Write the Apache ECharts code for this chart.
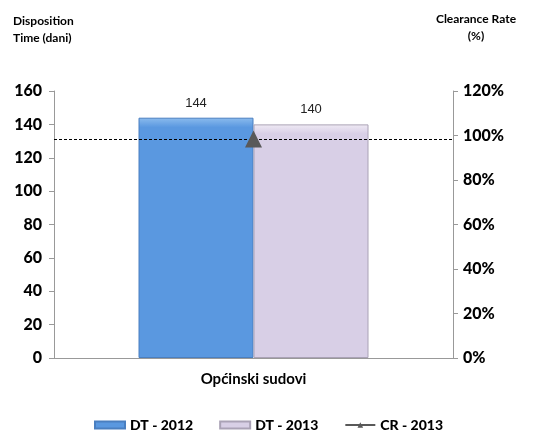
<!DOCTYPE html>
<html>
<head>
<meta charset="utf-8">
<script src="https://cdn.jsdelivr.net/npm/echarts@6/dist/echarts.min.js"></script>
<style>
  html, body { margin: 0; padding: 0; background: #fff; }
  #chart { width: 537px; height: 439px; }
</style>
</head>
<body>
<div id="chart"></div>
<script>
// podaci
const categories = ['Općinski sudovi']
const dt2012 = [144]
const dt2013 = [140]
const cr2013 = [98.4]
const leftTicks = [0, 160, 20]   // min, max, korak
const rightTicks = [0, 120, 20]

const chart = echarts.init(document.getElementById('chart'))
const axisFont = { fontFamily: 'Lato', fontWeight: 900, fontSize: 16, color: '#000' }

const option = {
  animation: false,
  backgroundColor: '#fff',
  grid: { left: 54, right: 84, top: 91, bottom: 81 },
  graphic: [
    {
      type: 'text', left: 13, top: 13,
      style: { text: 'Disposition\nTime (dani)', font: 'bold 12px Lato', fill: '#000', lineHeight: 17 }
    },
    {
      type: 'text', x: 476, y: 13,
      style: { text: 'Clearance Rate', font: 'bold 12px Lato', fill: '#000', textAlign: 'center' }
    },
    {
      type: 'text', x: 476, y: 30,
      style: { text: '(%)', font: 'bold 12px Lato', fill: '#000', textAlign: 'center' }
    }
  ],
  legend: {
    bottom: 2,
    left: 'center',
    itemWidth: 30,
    itemHeight: 7,
    itemGap: 26,
    textStyle: { fontFamily: 'Lato', fontWeight: 900, fontSize: 14, color: '#000' },
    data: [
      { name: 'DT - 2012', icon: 'rect' },
      { name: 'DT - 2013', icon: 'rect' },
      { name: 'CR - 2013' }
    ]
  },
  xAxis: {
    type: 'category',
    data: categories,
    axisLine: { lineStyle: { color: '#999' } },
    axisTick: { show: false },
    axisLabel: { fontFamily: 'Lato', fontWeight: 'bold', fontSize: 15, color: '#000', margin: 14 }
  },
  yAxis: [
    {
      type: 'value',
      min: leftTicks[0], max: leftTicks[1], interval: leftTicks[2],
      axisLine: { show: true, lineStyle: { color: '#999' } },
      axisTick: { show: true, length: 5, lineStyle: { color: '#999' } },
      splitLine: { show: false },
      axisLabel: Object.assign({ margin: 12 }, axisFont)
    },
    {
      type: 'value',
      min: rightTicks[0], max: rightTicks[1], interval: rightTicks[2],
      position: 'right',
      axisLine: { show: true, lineStyle: { color: '#999' } },
      axisTick: { show: true, length: 5, lineStyle: { color: '#999' } },
      splitLine: { show: false },
      axisLabel: Object.assign({ margin: 10, formatter: '{value}%' }, axisFont)
    }
  ],
  series: [
    {
      name: 'DT - 2012',
      type: 'bar',
      data: dt2012,
      barWidth: 115,
      barGap: '0%',
      itemStyle: {
        color: new echarts.graphic.LinearGradient(0, 0, 0, 1, [
          { offset: 0, color: '#8cbcee' },
          { offset: 0.04, color: '#5a98e0' },
          { offset: 1, color: '#5a98e0' }
        ]),
        borderColor: '#4a7fc0',
        borderWidth: 1
      },
      label: { show: true, position: 'top', distance: 8, fontFamily: 'Liberation Sans', fontSize: 13, color: '#222' }
    },
    {
      name: 'DT - 2013',
      type: 'bar',
      data: dt2013,
      barWidth: 115,
      itemStyle: {
        color: new echarts.graphic.LinearGradient(0, 0, 0, 1, [
          { offset: 0, color: '#f0ebf5' },
          { offset: 0.04, color: '#d8cfe6' },
          { offset: 1, color: '#d8cfe6' }
        ]),
        borderColor: '#aaa2b6',
        borderWidth: 1
      },
      label: { show: true, position: 'top', distance: 8, fontFamily: 'Liberation Sans', fontSize: 13, color: '#222' }
    },
    {
      name: 'CR - 2013',
      type: 'line',
      yAxisIndex: 1,
      data: cr2013,
      symbol: 'triangle',
      symbolSize: 17,
      itemStyle: { color: '#595959' },
      lineStyle: { color: '#595959', width: 3 },
      markLine: {
        silent: true,
        symbol: 'none',
        label: { show: false },
        lineStyle: { color: '#000', type: [3, 2], width: 1 },
        data: [{ yAxis: cr2013[0] }]
      },
      z: 5
    }
  ]
}
chart.setOption(option)
</script>
</body>
</html>
